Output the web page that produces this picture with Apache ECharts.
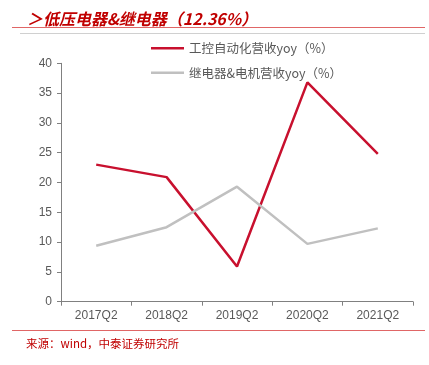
<!DOCTYPE html>
<html><head><meta charset="utf-8">
<script src="https://cdn.jsdelivr.net/npm/echarts@6/dist/echarts.min.js"></script>
<style>html,body{margin:0;padding:0;background:#fff}#c{width:429px;height:365px}</style>
</head><body><div id="c"></div>
<script>
const categories = ['2017Q2','2018Q2','2019Q2','2020Q2','2021Q2'];
const seriesNames = ['工控自动化营收yoy（%）','继电器&电机营收yoy（%）'];
const automation = [23.0, 20.9, 5.9, 36.8, 24.8];
const relayMotor = [9.4, 12.5, 19.3, 9.7, 12.3];
const yTicks = {min: 0, max: 40, interval: 5};

const chart = echarts.init(document.getElementById('c'), null, {renderer: 'canvas'});
const cjk = '"Noto Sans CJK SC", "Liberation Sans", sans-serif';
chart.setOption({
  animation: false,
  textStyle: {fontFamily: cjk},
  title: [{
    text: '＞低压电器&继电器（12.36%）',
    left: 22, top: 6,
    textStyle: {color: '#c00000', fontSize: 16, fontWeight: 'bold', fontStyle: 'italic', fontFamily: cjk}
  }, {
    text: '来源：wind，中泰证券研究所',
    left: 21, top: 333,
    textStyle: {color: '#c00000', fontSize: 11.5, fontWeight: 'normal', fontFamily: cjk}
  }],
  graphic: [
    {type: 'line', shape: {x1: 12, y1: 27.5, x2: 425, y2: 27.5}, style: {stroke: '#e06666', lineWidth: 1}},
    {type: 'line', shape: {x1: 20, y1: 33.5, x2: 425, y2: 33.5}, style: {stroke: '#d0d0d0', lineWidth: 1}},
    {type: 'line', shape: {x1: 12, y1: 330.5, x2: 425, y2: 330.5}, style: {stroke: '#e06666', lineWidth: 1}}
  ],
  legend: {
    orient: 'vertical', left: 146, top: 37, itemGap: 12,
    icon: 'rect', itemWidth: 33, itemHeight: 2.5,
    textStyle: {color: '#595959', fontSize: 12.5, fontFamily: cjk},
    data: seriesNames
  },
  grid: {left: 61, right: 16, top: 63.3, bottom: 63.3, containLabel: false},
  xAxis: {
    type: 'category', data: categories, boundaryGap: true,
    axisLine: {lineStyle: {color: '#808080', width: 1}},
    axisTick: {show: true, length: 4, lineStyle: {color: '#808080'}},
    axisLabel: {color: '#595959', fontSize: 12, margin: 8, fontFamily: '"Liberation Sans", sans-serif'}
  },
  yAxis: {
    type: 'value', min: yTicks.min, max: yTicks.max, interval: yTicks.interval,
    axisLine: {show: true, lineStyle: {color: '#808080', width: 1}},
    axisTick: {show: true, length: 4, lineStyle: {color: '#808080'}},
    splitLine: {show: false},
    axisLabel: {color: '#595959', fontSize: 12, margin: 9, fontFamily: '"Liberation Sans", sans-serif'}
  },
  series: [
    {name: seriesNames[0], type: 'line', data: automation, symbol: 'none',
     lineStyle: {color: '#c8102e', width: 2.5}, itemStyle: {color: '#c8102e'}},
    {name: seriesNames[1], type: 'line', data: relayMotor, symbol: 'none',
     lineStyle: {color: '#c0c0c0', width: 2.5}, itemStyle: {color: '#c0c0c0'}}
  ]
});
</script></body></html>
